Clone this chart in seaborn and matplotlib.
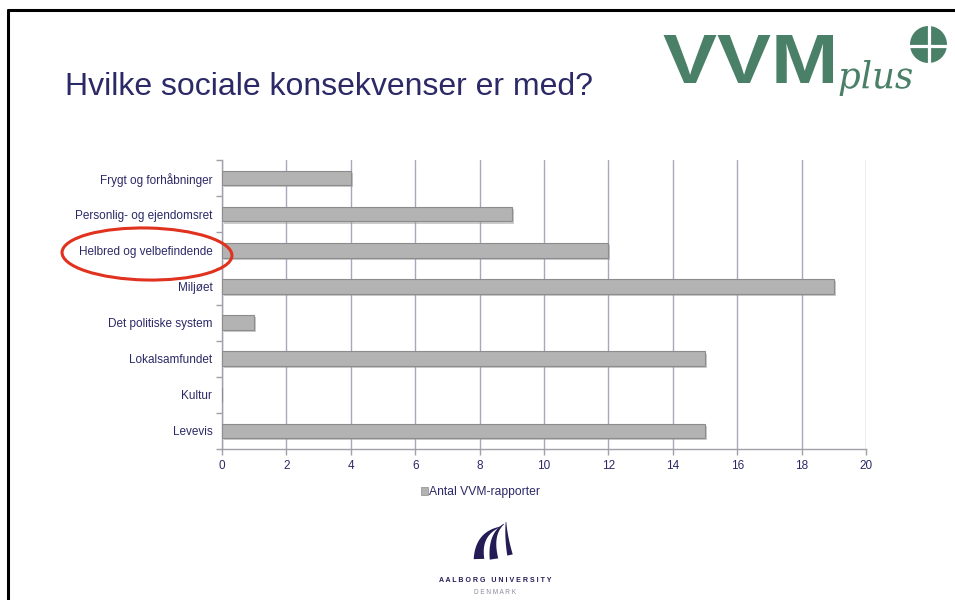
import numpy as np
import pandas as pd
import matplotlib.pyplot as plt
import matplotlib.patheffects as pe
from matplotlib.patches import Ellipse, Circle, Patch, Polygon, PathPatch
from matplotlib.textpath import TextPath
from matplotlib.font_manager import FontProperties
from matplotlib.transforms import Affine2D
from matplotlib.lines import Line2D
import seaborn as sns

categories = ["Frygt og forhåbninger", "Personlig- og ejendomsret",
              "Helbred og velbefindende", "Miljøet", "Det politiske system",
              "Lokalsamfundet", "Kultur", "Levevis"]
counts = [4, 9, 12, 19, 1, 15, 0, 15]
x_ticks = [0, 2, 4, 6, 8, 10, 12, 14, 16, 18, 20]
series_name = "Antal VVM-rapporter"
title = "Hvilke sociale konsekvenser er med?"

NAVY = "#2b2966"
GREEN = "#4a8068"
AAU = "#231c55"

sns.set_style("white")
plt.rcParams["font.family"] = ["Liberation Sans", "DejaVu Sans"]

df = pd.DataFrame({"kategori": categories, "antal": counts})

fig = plt.figure(figsize=(9.55, 6), dpi=100)
ax = fig.add_axes([0.2325, 0.2517, 0.9068 - 0.2325, 0.7333 - 0.2517])

sns.barplot(data=df, x="antal", y="kategori", orient="h", ax=ax,
            color="#b3b3b3", saturation=1, width=0.4,
            edgecolor="#8c8c8c", linewidth=0.8, zorder=3)
for bar in ax.patches:
    bar.set_path_effects([pe.SimplePatchShadow(offset=(1.5, -1.5), shadow_rgbFace="#999999", alpha=0.5),
                          pe.Normal()])

ax.set_xlim(0, 20)
ax.set_ylim(7.5, -0.5)
ax.set_xticks(x_ticks)
ax.set_xlabel("")
ax.set_ylabel("")
ax.xaxis.grid(True, color="#a9a7be", linewidth=1.0, zorder=0)
ax.set_axisbelow(True)

for s in ["top", "right"]:
    ax.spines[s].set_visible(False)
for s in ["left", "bottom"]:
    ax.spines[s].set_color("#a0a0a8")
    ax.spines[s].set_linewidth(1.0)

ax.tick_params(axis="x", length=4, width=1, color="#a0a0a8", labelsize=8.5,
               labelcolor=NAVY, pad=4, bottom=True)
ax.tick_params(axis="y", which="major", length=0, labelsize=8.5, labelcolor=NAVY, pad=7)
ax.set_yticks(np.arange(-0.5, 8.0, 1.0), minor=True)
ax.tick_params(axis="y", which="minor", length=4, width=1, color="#a0a0a8", left=True)

# legend below the axis
fig.legend(handles=[Patch(facecolor="#b3b3b3", edgecolor="#8c8c8c", linewidth=0.5)],
           labels=[series_name], loc="center", bbox_to_anchor=(0.503, 1 - 492 / 600),
           frameon=False, fontsize=8.7, labelcolor=NAVY, handlelength=0.6,
           handleheight=0.6, handletextpad=0.05)

# title
fig.text(65 / 955, 1 - 87 / 600, title, fontsize=23, color=NAVY, va="center", ha="left")

# red ellipse around "Helbred og velbefindende"
ell = Ellipse((147 / 955, 1 - 254 / 600), 170 / 955, 52 / 600, angle=-2,
              transform=fig.transFigure, fill=False, edgecolor="#e0321f", linewidth=2.2)
fig.add_artist(ell)

# slide border (top and left)
fig.add_artist(Line2D([8 / 955, 1], [1 - 10 / 600] * 2, color="black", linewidth=2.2,
                      transform=fig.transFigure))
fig.add_artist(Line2D([8 / 955] * 2, [0, 1 - 10 / 600], color="black", linewidth=2.2,
                      transform=fig.transFigure))

# overlay in pixel coordinates for the logos (y measured from the top)
ov = fig.add_axes([0, 0, 1, 1], zorder=5)
ov.set_xlim(0, 955)
ov.set_ylim(600, 0)
ov.axis("off")


def fit_text(s, box, prop, color):
    """Draw text s as a path stretched into box = (x0, y0, x1, y1) pixels."""
    tp = TextPath((0, 0), s, size=10, prop=prop)
    v = tp.vertices
    xmin, ymin = v.min(axis=0)
    xmax, ymax = v.max(axis=0)
    x0, y0, x1, y1 = box
    tr = (Affine2D().translate(-xmin, -ymax)
          .scale((x1 - x0) / (xmax - xmin), -(y1 - y0) / (ymax - ymin))
          .translate(x0, y0))
    ov.add_patch(PathPatch(tr.transform_path(tp), facecolor=color, edgecolor="none"))


# VVM plus logo
fit_text("VVM", (663, 35, 833, 83), FontProperties(family="Liberation Sans", weight="bold"), GREEN)
fit_text("plus", (838, 60, 912, 96), FontProperties(family="DejaVu Serif", style="italic"), GREEN)
ov.add_patch(Circle((928.5, 44.5), 18.5, facecolor=GREEN, edgecolor="none"))
ov.plot([910, 947], [45.5, 45.5], color="white", linewidth=2.3)
ov.plot([928.5, 928.5], [26, 63], color="white", linewidth=2.3)

# AAU logo: three tapering curved bands
t = np.linspace(0, 1, 40)
for p0, p1, p2, w0 in [((479, 559), (478, 534), (500, 527), 10),
                       ((494, 559), (490, 534), (504, 524), 8),
                       ((510, 555), (506, 537), (506, 522), 5)]:
    p0, p1, p2 = map(np.array, (p0, p1, p2))
    pts = ((1 - t) ** 2)[:, None] * p0 + (2 * (1 - t) * t)[:, None] * p1 + (t ** 2)[:, None] * p2
    d = np.gradient(pts, axis=0)
    nrm = np.stack([-d[:, 1], d[:, 0]], axis=1)
    nrm /= np.linalg.norm(nrm, axis=1)[:, None]
    w = (w0 / 2) * (1 - t) + 0.3
    ov.add_patch(Polygon(np.vstack([pts + nrm * w[:, None], (pts - nrm * w[:, None])[::-1]]),
                         facecolor=AAU, edgecolor="none"))
ov.text(495, 580, "A A L B O R G   U N I V E R S I T Y", fontsize=5,
        fontweight="bold", color=AAU, ha="center", va="center")
ov.text(495, 592, "D E N M A R K", fontsize=4.7, color="#8a8aa0", ha="center", va="center")

fig.savefig("out.png", dpi=100, facecolor="white")
